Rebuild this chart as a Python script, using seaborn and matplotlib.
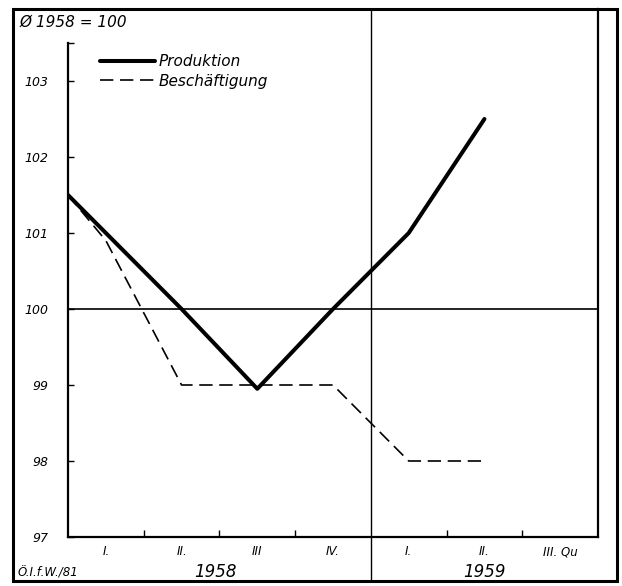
import pandas as pd
import matplotlib.pyplot as plt
import matplotlib.transforms as mtransforms
from matplotlib.patches import Rectangle
import seaborn as sns

# Quarter positions: 0 = start of 1958, one unit per quarter
quarters = [0, 0.5, 1.5, 2.5, 3.5, 4.5, 5.5]
produktion = [101.5, 101.0, 100.0, 98.95, 100.0, 101.0, 102.5]
beschaeftigung = [101.5, 100.9, 99.0, 99.0, 99.0, 98.0, 98.0]

quarter_labels = ["I.", "II.", "III", "IV.", "I.", "II.", "III. Qu"]
year_labels = ["1958", "1959"]
y_ticks = [97, 98, 99, 100, 101, 102, 103]

df = pd.DataFrame({"quartal": quarters, "Produktion": produktion,
                   "Beschäftigung": beschaeftigung})

sns.set_style("white")
plt.rcParams['font.family'] = ['DejaVu Sans']
plt.rcParams['font.style'] = 'italic'
for k in ['text.color', 'xtick.color', 'ytick.color', 'axes.labelcolor']:
    plt.rcParams[k] = 'black'

W, H = 622, 586
fig = plt.figure(figsize=(W / 100, H / 100), dpi=100)
ax = fig.add_axes([68 / W, 1 - 537 / H, (598 - 68) / W, (537 - 9) / H])

sns.lineplot(data=df, x="quartal", y="Produktion", ax=ax, color="black",
             linewidth=2.9, label="Produktion")
sns.lineplot(data=df, x="quartal", y="Beschäftigung", ax=ax, color="black",
             linewidth=1.2, linestyle=(0, (8, 4)), label="Beschäftigung")

ax.axhline(100, color="black", linewidth=1.2)

ax.set_xlim(0, 7)
ax.set_ylim(97, 97 + 528 / 76)
ax.set_xlabel("")
ax.set_ylabel("")

# spines
for s in ["left", "bottom", "right"]:
    ax.spines[s].set_linewidth(1.6)
    ax.spines[s].set_color("black")
ax.spines["top"].set_visible(False)
ax.spines["left"].set_bounds(97, 103.5)

# ticks
ax.set_yticks(y_ticks)
ax.set_yticklabels([str(t) for t in y_ticks], fontsize=9, style="italic")
ax.tick_params(axis="y", direction="in", length=4, width=1, pad=14, left=True)
ax.set_yticks([103.5], minor=True)
ax.tick_params(axis="y", which="minor", direction="in", length=4, width=1, left=True)

ax.set_xticks([1, 2, 3, 5, 6])
ax.set_xticklabels([])
ax.tick_params(axis="x", direction="in", length=5, width=1, bottom=True)
ax.set_xticks([q + 0.5 for q in range(7)], minor=True)
ax.set_xticklabels(quarter_labels, minor=True, fontsize=8.5, style="italic")
ax.tick_params(axis="x", which="minor", length=0, pad=6)

# year labels below
trans = mtransforms.blended_transform_factory(ax.transData, ax.transAxes)
ax.text(1.95, -0.066, year_labels[0], transform=trans, ha="center", va="center",
        fontsize=12, style="italic")
ax.text(5.5, -0.066, year_labels[1], transform=trans, ha="center", va="center",
        fontsize=12, style="italic")

# divider between years, full frame height
fig.add_artist(plt.Line2D([371 / W, 371 / W], [1 - 581 / H, 1 - 9 / H],
                          color="black", linewidth=1.0, transform=fig.transFigure))

# outer frame
fig.add_artist(Rectangle((13 / W, 1 - 581 / H), (617 - 13) / W, (581 - 9) / H,
                         fill=False, edgecolor="black", linewidth=2.2,
                         transform=fig.transFigure))

fig.text(20 / W, 1 - 22 / H, "Ø 1958 = 100", ha="left", va="center",
         fontsize=11, style="italic")
fig.text(18 / W, 1 - 573 / H, "Ö.I.f.W./81", ha="left", va="center",
         fontsize=8.5, style="italic")

leg = ax.legend(loc="upper left", bbox_to_anchor=(100 / W, 1 - 54 / H),
                bbox_transform=fig.transFigure, frameon=False,
                handlelength=3.6, handletextpad=0.25, labelspacing=0.3,
                borderpad=0, borderaxespad=0, prop={"size": 11, "style": "italic"})

fig.savefig("out.png", dpi=100)
